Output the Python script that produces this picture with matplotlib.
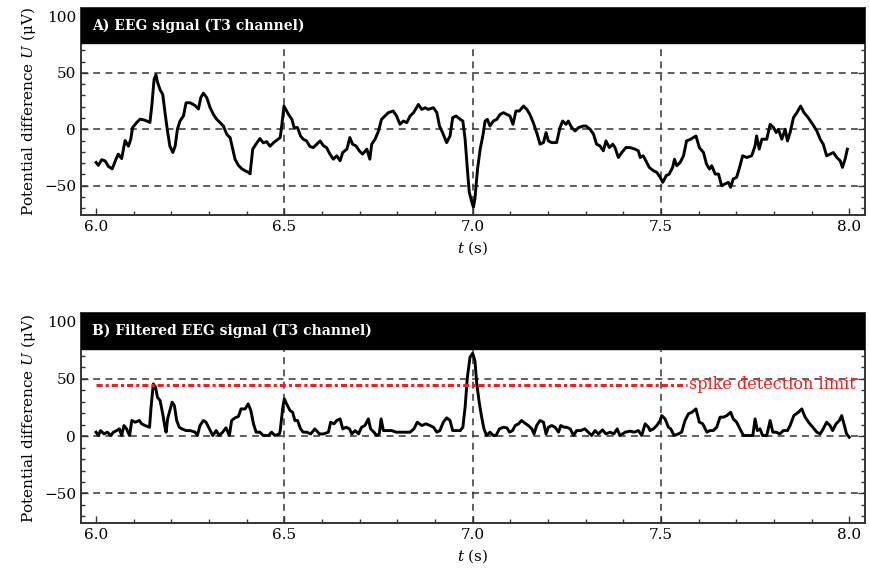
import matplotlib
matplotlib.use('Agg')
import matplotlib.pyplot as plt
from matplotlib.ticker import MultipleLocator
import numpy as np

plt.rcParams['font.family'] = ['DejaVu Serif']
plt.rcParams['mathtext.fontset'] = 'dejavuserif'

# ---------------- datos ----------------
# Panel A: senal EEG (canal T3)
t_a = [6.000, 6.006, 6.015, 6.024, 6.033, 6.043, 6.053, 6.059, 6.068, 6.077,
       6.086, 6.092, 6.097, 6.108, 6.117, 6.130, 6.143, 6.148, 6.154, 6.159,
       6.163, 6.170, 6.177, 6.183, 6.189, 6.196, 6.204, 6.210, 6.216, 6.223,
       6.232, 6.239, 6.250, 6.263, 6.272, 6.278, 6.285, 6.294, 6.303, 6.312,
       6.320, 6.329, 6.338, 6.347, 6.356, 6.363, 6.369, 6.378, 6.387, 6.396,
       6.404, 6.409, 6.416, 6.425, 6.435, 6.444, 6.453, 6.462, 6.471, 6.480,
       6.489, 6.493, 6.499, 6.504, 6.511, 6.520, 6.526, 6.535, 6.543, 6.550,
       6.559, 6.568, 6.577, 6.586, 6.595, 6.604, 6.612, 6.621, 6.630, 6.639,
       6.648, 6.655, 6.666, 6.674, 6.681, 6.690, 6.699, 6.708, 6.719, 6.727,
       6.732, 6.741, 6.750, 6.758, 6.767, 6.776, 6.789, 6.798, 6.807, 6.816,
       6.825, 6.834, 6.843, 6.856, 6.865, 6.874, 6.882, 6.896, 6.905, 6.912,
       6.920, 6.931, 6.940, 6.947, 6.956,
       6.967, 6.974, 6.980, 6.986, 6.991, 6.998, 7.002, 7.006, 7.013, 7.020,
       7.027, 7.033, 7.039, 7.046, 7.055, 7.064, 7.073, 7.082, 7.091, 7.099,
       7.107, 7.115, 7.124, 7.135, 7.144, 7.152, 7.161, 7.170, 7.179, 7.188,
       7.195, 7.201, 7.210, 7.223, 7.232, 7.239, 7.248, 7.254, 7.263, 7.272,
       7.281, 7.294, 7.301, 7.312, 7.321, 7.329, 7.338, 7.347, 7.354, 7.363,
       7.372, 7.378, 7.387, 7.396, 7.407, 7.418, 7.431, 7.440, 7.445, 7.453,
       7.460, 7.469,
       7.480, 7.489, 7.498, 7.505, 7.514, 7.522, 7.531, 7.536, 7.542, 7.551,
       7.560, 7.568, 7.579, 7.593, 7.602, 7.613, 7.621, 7.629, 7.635, 7.644,
       7.653, 7.661, 7.670, 7.679, 7.685, 7.692, 7.701, 7.710, 7.717, 7.728,
       7.741, 7.750, 7.754, 7.761, 7.768, 7.781, 7.790, 7.799, 7.806, 7.812,
       7.821, 7.830, 7.836, 7.843, 7.852, 7.861, 7.871, 7.880, 7.891, 7.903,
       7.914, 7.923, 7.931, 7.940, 7.949, 7.958, 7.967, 7.976, 7.982, 7.989,
       7.995]
u_a = [-29.4, -32, -27, -28, -33, -35, -26.5, -22, -26, -10,
       -15, -9, 1.5, 6, 9, 8, 6, 20.6, 44, 48.5,
       42, 35, 31, 15, 0, -15, -20.6, -15, 0, 7.4,
       11.8, 23.5, 23.5, 21, 18, 28, 32, 28, 19, 13,
       9, 6, 3, -4.4, -7.4, -17.6, -26.5, -32, -35, -36.8,
       -38, -39.5, -17.6, -13, -8.2, -12, -11, -15, -12, -9.7,
       -7.3, 2.9, 20.6, 17.6, 13.2, 8.8, 1.5, 1.5, -5.9, -8.8,
       -10.3, -15.3, -16.2, -13.2, -10.3, -14.7, -16.2, -22, -26.5, -23.5,
       -27.9, -20.6, -17.6, -7.3, -13.2, -14.7, -19.1, -22, -17.6, -26.5,
       -13.2, -8.8, -1.5, 8.8, 11.8, 14.7, 16.2, 11.8, 4.4, 7.3,
       5.9, 11.8, 14.7, 22, 17.6, 19.1, 17.6, 19.1, 14.7, 2.9,
       -2.9, -11.8, -5.9, 10.3, 11.8,
       8.8, 7.3, -8.8, -35.3, -55.8, -64.7, -69, -61.7, -35.3, -17.6,
       -5.9, 7.3, 8.8, 2.9, 7.3, 8.8, 13.2, 14.7, 13.2, 11.8,
       4.4, 16.2, 16.2, 20.6, 17.6, 13.2, 5.9, -2.9, -13.2, -11.8,
       -2.9, -10.3, -11.8, -11.8, 1.5, 7.3, 4.4, 7.3, 1.5, -1.5,
       1.5, 2.9, 2.9, 0, -4.4, -13.2, -14.7, -19.1, -10.3, -16.2,
       -13.2, -16.2, -25, -20.6, -16.2, -16.2, -17.6, -19.1, -25, -23.5,
       -27.9, -33.8,
       -36.7, -38.2, -42.6, -47, -41.1, -39.7, -33.8, -26.5, -32.3, -29.4,
       -23.5, -10.3, -8.8, -5.9, -16.2, -20.6, -30.9, -35.3, -32.3, -39.7,
       -39.7, -50, -48.5, -47, -51.4, -44, -42.6, -32.3, -23.5, -25,
       -23.5, -14.7, -5.9, -17.6, -8.8, -8.8, 4.4, 1.5, -2.9, 0,
       -8.8, 0, -10.3, -2.9, 10.3, 14.7, 20.6, 14.7, 10.3, 4.4,
       -1.5, -8.8, -13.2, -23.5, -22, -20.6, -25, -27.9, -33.8, -26.5,
       -17.6]

# Panel B: senal EEG filtrada
t_b = [6.000, 6.006, 6.012, 6.021, 6.030, 6.039, 6.046, 6.055, 6.062, 6.068,
       6.074, 6.081, 6.089, 6.095, 6.104, 6.115, 6.121, 6.130, 6.142, 6.146,
       6.152, 6.158, 6.163, 6.170, 6.177, 6.183, 6.186, 6.190, 6.196, 6.202,
       6.208, 6.214, 6.221, 6.228, 6.239, 6.250, 6.263, 6.269, 6.276, 6.285,
       6.292, 6.301, 6.310, 6.319, 6.327, 6.336, 6.345, 6.354, 6.360, 6.369,
       6.378, 6.385, 6.396, 6.404, 6.411, 6.418, 6.425, 6.435, 6.444, 6.458,
       6.466, 6.475, 6.487,
       6.489, 6.496, 6.500, 6.506, 6.515, 6.522, 6.528, 6.535, 6.543, 6.550,
       6.559, 6.570, 6.581, 6.593, 6.604, 6.617, 6.623, 6.632, 6.639, 6.648,
       6.655, 6.664, 6.673, 6.679, 6.688, 6.697, 6.705, 6.714, 6.723, 6.729,
       6.738, 6.745, 6.752, 6.757, 6.763, 6.772, 6.785, 6.797, 6.807, 6.820,
       6.834, 6.844, 6.853, 6.865, 6.876, 6.887, 6.896, 6.905, 6.913, 6.922,
       6.931, 6.940, 6.947, 6.958,
       6.967, 6.974, 6.980, 6.986, 6.993, 7.000, 7.006, 7.011, 7.018, 7.024,
       7.030, 7.037, 7.046, 7.055, 7.062, 7.071, 7.082, 7.091, 7.098, 7.106,
       7.113, 7.122, 7.130, 7.139, 7.148, 7.157, 7.163, 7.170, 7.179, 7.188,
       7.195, 7.201, 7.210, 7.219, 7.228, 7.234, 7.243, 7.250, 7.259, 7.268,
       7.276, 7.287, 7.298, 7.307, 7.316, 7.325, 7.334, 7.345, 7.354, 7.365,
       7.375, 7.384, 7.391, 7.405, 7.418, 7.429, 7.440, 7.449, 7.458, 7.467,
       7.471, 7.480, 7.489, 7.498, 7.502, 7.511, 7.520, 7.526, 7.535, 7.546,
       7.555, 7.564, 7.573, 7.582, 7.593, 7.602, 7.611, 7.622, 7.630, 7.639,
       7.648, 7.657, 7.666, 7.675, 7.685, 7.692, 7.701, 7.710, 7.719, 7.732,
       7.744, 7.750, 7.756, 7.763, 7.770, 7.781, 7.790, 7.797, 7.806, 7.816,
       7.825, 7.836, 7.843, 7.853, 7.865, 7.874, 7.883, 7.892, 7.903, 7.914,
       7.923, 7.931, 7.940, 7.949, 7.956, 7.965, 7.974, 7.980, 7.986, 7.993,
       8.000]
u_b = [3.5, 0.6, 4.9, 2, 3.5, 0.6, 3.5, 4.9, 6.4, 0.6,
       9.3, 6.4, 0.6, 13.7, 12.2, 13.7, 10.8, 9.3, 7.8, 25.3,
       45.6, 42.7, 34, 31.1, 19.5, 7.8, 3.5, 15.1, 22.4, 29.7,
       26.7, 13.7, 7.8, 6.4, 4.9, 4.9, 3.5, 0.6, 9.3, 13.7,
       12.2, 6.4, 0.6, 4.9, 0.6, 3.5, 7.3, 0.6, 13.7, 16,
       17.2, 23.8, 23.8, 28.2, 22.4, 10.8, 3.5, 3.5, 0.6, 0.6,
       3.5, 0.6, 2,
       4.9, 25.3, 32.6, 28.2, 22.4, 20.9, 13.7, 13.7, 6.4, 3.5,
       3.5, 2, 6.4, 2, 2, 3.5, 12.2, 10.8, 13.7, 15.1,
       6.4, 7.8, 6.4, 2, 4.9, 2, 7.8, 9.3, 15.1, 6.4,
       3.5, 0.6, 2, 15.1, 4.9, 4.9, 4.9, 3.5, 3.5, 3.5,
       3.5, 6.4, 12.2, 9.3, 10.8, 9.3, 7.8, 3.5, 4.9, 12.2,
       16, 13.7, 4.9, 4.9,
       4.9, 7.8, 25.3, 51.5, 68.9, 72.4, 66, 45.6, 28.2, 16.6,
       6.4, 0.6, 3.5, 0.6, 0.6, 6.4, 7.8, 7.3, 3.5, 4.9,
       9.3, 10.8, 13.7, 11.3, 9.3, 6.4, 2, 9.3, 13.7, 12.2,
       2, 7.8, 9.3, 7.8, 3.5, 9.3, 7.8, 7.8, 6.4, 0.6,
       4.9, 4.9, 6.4, 3.5, 0.6, 4.9, 2, 5.5, 2, 3.5,
       2, 6.4, 0.6, 3.5, 4.4, 3.5, 4.9, 0.6, 10.8, 7.8,
       4.9, 6.4, 9.3, 13.7, 18, 15.1, 7.8, 6.4, 0.6, 2,
       3.5, 13.7, 19.5, 20.9, 23.8, 12.2, 10.8, 3.5, 4.9, 4.9,
       7.8, 16.6, 16.6, 18, 20.9, 15.1, 12.2, 6.4, 0.6, 0.6,
       0.6, 15.1, 4.9, 6.4, 0.6, 0.6, 13.7, 3.5, 3.5, 2,
       4.9, 4.9, 9.3, 18, 20.9, 23.8, 16.6, 12.2, 7.8, 3.5,
       2, 6.4, 12.2, 9.3, 4.9, 10.8, 13.7, 18, 10.8, 2,
       -0.9]

# limite de deteccion de espigas (solo panel B)
spike_limit = 45
spike_t = [6.0, 7.57]

titles = ['A) EEG signal (T3 channel)', 'B) Filtered EEG signal (T3 channel)']
grid_t = [6.5, 7.0, 7.5]
grid_u = [-50, 0, 50]

# ---------------- graficado ----------------
fig = plt.figure(figsize=(8.7, 5.76), dpi=100)
ax1 = fig.add_axes([0.0931, 0.6267, 0.9012, 0.3594])
ax2 = fig.add_axes([0.0931, 0.0915, 0.9012, 0.3651])

band_lo, band_hi = 76.5, 107.5

for ax, tt, uu, title in zip([ax1, ax2], [t_a, t_b], [u_a, u_b], titles):
    ax.set_xlim(5.96, 8.042)
    ax.set_ylim(-76, band_hi)

    # lineas de grilla a trazos
    for g in grid_u:
        ax.axhline(g, color='#333333', lw=1.1, dashes=(4.5, 3.5), zorder=1)
    for g in grid_t:
        ax.axvline(g, color='#333333', lw=1.1, dashes=(4.5, 3.5), zorder=1)

    ax.plot(tt, uu, color='black', lw=2.1, zorder=3)

    # banda negra con el titulo
    ax.axhspan(band_lo, band_hi, color='black', zorder=5)
    ax.text(0.014, (band_lo + band_hi) / 2, title, color='white',
            fontsize=10, fontweight='bold', va='center', ha='left',
            transform=ax.get_yaxis_transform(), zorder=6)

    ax.xaxis.set_major_locator(MultipleLocator(0.5))
    ax.xaxis.set_minor_locator(MultipleLocator(0.1))
    ax.yaxis.set_major_locator(MultipleLocator(50))
    ax.yaxis.set_minor_locator(MultipleLocator(10))
    ax.xaxis.set_major_formatter(plt.FuncFormatter(lambda v, p: '%.1f' % v))
    ax.tick_params(which='both', direction='in', top=True, right=True,
                   labelsize=11, width=1.0, color='#333333')
    ax.tick_params(which='major', length=5)
    ax.tick_params(which='minor', length=3)
    for sp in ax.spines.values():
        sp.set_linewidth(1.4)
        sp.set_color('#333333')

    ax.set_xlabel('$t$ (s)', fontsize=11)
    ax.set_ylabel('Potential difference $U$ (μV)', fontsize=11, labelpad=4)

# linea roja del limite
ax2.hlines(spike_limit, spike_t[0], spike_t[1], color='#ff1a1a', lw=2.2,
           linestyles=(0, (2, 1, 1, 1)), zorder=4)
ax2.text(spike_t[1] + 0.005, spike_limit, 'spike detection limit',
         color='#ff1a1a', fontsize=11.5, va='center', ha='left', zorder=4)

plt.savefig('out.png', dpi=100)
plt.close('all')
